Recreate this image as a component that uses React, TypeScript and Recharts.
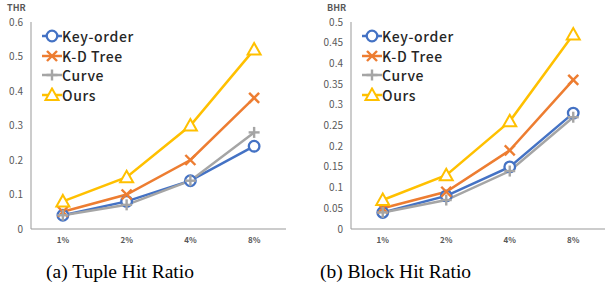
import { LineChart, Line, XAxis, YAxis } from "recharts"

const categories = ["1%", "2%", "4%", "8%"]

const thrKeyOrder = [0.04, 0.08, 0.14, 0.24]
const thrKdTree = [0.05, 0.1, 0.2, 0.38]
const thrCurve = [0.04, 0.07, 0.14, 0.28]
const thrOurs = [0.08, 0.15, 0.3, 0.52]
const thrTicks = [0, 0.1, 0.2, 0.3, 0.4, 0.5, 0.6]

const bhrKeyOrder = [0.04, 0.08, 0.15, 0.28]
const bhrKdTree = [0.05, 0.09, 0.19, 0.36]
const bhrCurve = [0.04, 0.07, 0.14, 0.27]
const bhrOurs = [0.07, 0.13, 0.26, 0.47]
const bhrTicks = [0, 0.05, 0.1, 0.15, 0.2, 0.25, 0.3, 0.35, 0.4, 0.45, 0.5]

type Shape = "circle" | "cross" | "plus" | "triangle"

const series: { key: string; name: string; color: string; shape: Shape }[] = [
  { key: "keyOrder", name: "Key-order", color: "#4472C4", shape: "circle" },
  { key: "kdTree", name: "K-D Tree", color: "#ED7D31", shape: "cross" },
  { key: "curve", name: "Curve", color: "#A5A5A5", shape: "plus" },
  { key: "ours", name: "Ours", color: "#FFC000", shape: "triangle" }
]

const FONT = "'Noto Sans CJK SC', 'Noto Sans', sans-serif"
const SERIF = "'Liberation Serif', 'Times New Roman', serif"
const BOX = "#999999"
const FRAME = "#3a3a3a"

function Marker({ shape, cx, cy, color }: { shape: Shape; cx: number; cy: number; color: string }) {
  if (cx == null || cy == null) return null
  if (shape === "circle") {
    return <circle cx={cx} cy={cy} r={5.3} fill="#fff" stroke={color} strokeWidth={2.3} />
  }
  if (shape === "cross") {
    const s = 5
    return (
      <g stroke={color} strokeWidth={2.4}>
        <line x1={cx - s} y1={cy - s} x2={cx + s} y2={cy + s} />
        <line x1={cx - s} y1={cy + s} x2={cx + s} y2={cy - s} />
      </g>
    )
  }
  if (shape === "plus") {
    const s = 5.5
    return (
      <g stroke={color} strokeWidth={2.4}>
        <line x1={cx - s} y1={cy} x2={cx + s} y2={cy} />
        <line x1={cx} y1={cy - s} x2={cx} y2={cy + s} />
      </g>
    )
  }
  return (
    <polygon
      points={`${cx},${cy - 6.5} ${cx + 6.5},${cy + 5} ${cx - 6.5},${cy + 5}`}
      fill="#fff"
      stroke={color}
      strokeWidth={2}
    />
  )
}

function fmt(v: number) {
  return String(parseFloat(v.toFixed(2)))
}

function Legend({ left }: { left: number }) {
  return (
    <div style={{ position: "absolute", left, top: 26 }}>
      {series.map(s => (
        <div key={s.key} style={{ display: "flex", alignItems: "center", height: 19.7 }}>
          <svg width={20} height={16}>
            <line x1={0} y1={8} x2={20} y2={8} stroke={s.color} strokeWidth={2.5} />
            <Marker shape={s.shape} cx={10} cy={8} color={s.color} />
          </svg>
          <span
            style={{
              fontFamily: FONT,
              fontSize: 14,
              fontWeight: 500,
              letterSpacing: 0.6,
              color: "#262626",
              lineHeight: "16px"
            }}
          >
            {s.name}
          </span>
        </div>
      ))}
    </div>
  )
}

type PanelProps = {
  left: number
  width: number
  yWidth: number
  marginRight: number
  label: string
  labelLeft: number
  ticks: number[]
  values: number[][]
}

function Panel({ left, width, yWidth, marginRight, label, labelLeft, ticks, values }: PanelProps) {
  const data = categories.map((c, i) => {
    const row: Record<string, any> = { cat: c }
    series.forEach((s, j) => {
      row[s.key] = values[j][i]
    })
    return row
  })
  const max = ticks[ticks.length - 1]
  const pad = (width - yWidth - marginRight) / categories.length / 2
  return (
    <div style={{ position: "absolute", left, top: 0, width, height: 250 }}>
      <div
        style={{
          position: "absolute",
          left: labelLeft,
          top: 1,
          fontFamily: FONT,
          fontSize: 9,
          fontWeight: 700,
          color: "#595959"
        }}
      >
        {label}
      </div>
      <LineChart width={width} height={250} data={data} margin={{ top: 22, right: marginRight, left: 0, bottom: 0 }}>
        <XAxis
          dataKey="cat"
          height={21}
          padding={{ left: pad, right: pad }}
          tickLine={false}
          axisLine={{ stroke: BOX, strokeWidth: 1 }}
          tick={{ fill: "#595959", fontSize: 8, fontWeight: 700, fontFamily: FONT }}
        />
        <XAxis xAxisId="top" dataKey="cat" orientation="top" height={0} tick={false} tickLine={false} axisLine={{ stroke: "#888888" }} />
        <YAxis
          domain={[0, max]}
          ticks={ticks}
          tickFormatter={fmt}
          width={yWidth}
          tickLine={false}
          axisLine={{ stroke: BOX, strokeWidth: 1 }}
          tick={{ fill: "#595959", fontSize: 10, fontFamily: FONT }}
        />
        <YAxis yAxisId="right" orientation="right" width={0} domain={[0, max]} tick={false} tickLine={false} axisLine={{ stroke: FRAME }} />
        {series.map(s => (
          <Line
            key={s.key}
            dataKey={s.key}
            stroke={s.color}
            strokeWidth={2.5}
            isAnimationActive={false}
            dot={(p: any) => <Marker key={`${s.key}-${p.index}`} shape={s.shape} cx={p.cx} cy={p.cy} color={s.color} />}
            activeDot={false}
          />
        ))}
      </LineChart>
      <Legend left={yWidth + 11} />
    </div>
  )
}

export default function App() {
  return (
    <div style={{ position: "absolute", left: 0, top: 0, width: 606, height: 289, background: "#fff" }}>
      <Panel
        left={0}
        width={300}
        yWidth={31}
        marginRight={14}
        label="THR"
        labelLeft={7}
        ticks={thrTicks}
        values={[thrKeyOrder, thrKdTree, thrCurve, thrOurs]}
      />
      <Panel
        left={300}
        width={306}
        yWidth={51}
        marginRight={1}
        label="BHR"
        labelLeft={27}
        ticks={bhrTicks}
        values={[bhrKeyOrder, bhrKdTree, bhrCurve, bhrOurs]}
      />
      <div style={{ position: "absolute", left: 46, top: 261, fontFamily: SERIF, fontSize: 19.5, color: "#000" }}>
        (a) Tuple Hit Ratio
      </div>
      <div style={{ position: "absolute", left: 320, top: 261, fontFamily: SERIF, fontSize: 19.5, color: "#000" }}>
        (b) Block Hit Ratio
      </div>
    </div>
  )
}
